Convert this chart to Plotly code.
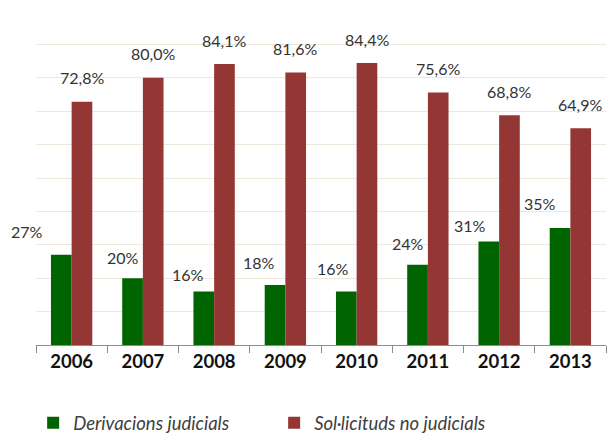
import plotly.graph_objects as go

years = ["2006", "2007", "2008", "2009", "2010", "2011", "2012", "2013"]
derivacions = [27, 20, 16, 18, 16, 24, 31, 35]
sollicituds = [72.8, 80.0, 84.1, 81.6, 84.4, 75.6, 68.8, 64.9]
green_labels = ["27%", "20%", "16%", "18%", "16%", "24%", "31%", "35%"]
red_labels = ["72,8%", "80,0%", "84,1%", "81,6%", "84,4%", "75,6%", "68,8%", "64,9%"]

# label nudges (pixels) for the green series labels, mimicking hand-placed labels
green_dx = [-45, -20, -26, -26, -24, -20, -29, -30]
green_dy = [23, 21, 17, 22, 23, 21, 16, 25]

GREEN = "#006400"
RED = "#943634"
FONT = "Lato"

fig = go.Figure()
fig.add_trace(go.Bar(x=years, y=derivacions, name="Derivacions judicials",
                     marker=dict(color=GREEN, line=dict(width=0))))
fig.add_trace(go.Bar(x=years, y=sollicituds, name="Sol·licituds no judicials",
                     marker=dict(color=RED, line=dict(width=0))))

ann = []
for i, y in enumerate(years):
    ann.append(dict(x=i, y=sollicituds[i], text=red_labels[i], showarrow=False,
                    xref="x", yref="y", xshift=10, yshift=24, yanchor="middle",
                    font=dict(family=FONT, size=16, color="#333333")))
    ann.append(dict(x=i, y=derivacions[i], text=green_labels[i], showarrow=False,
                    xref="x", yref="y", xshift=green_dx[i], yshift=green_dy[i],
                    yanchor="middle", font=dict(family=FONT, size=16, color="#333333")))

fig.update_layout(
    width=608, height=442,
    margin=dict(l=36, r=2, t=11, b=97, autoexpand=False),
    paper_bgcolor="white", plot_bgcolor="white",
    barmode="group", bargap=0.42, bargroupgap=0,
    annotations=ann,
    showlegend=True,
    legend=dict(orientation="h", x=-0.005, xanchor="left", y=-0.234, yanchor="middle",
                font=dict(family=FONT, size=18.5, color="#404040", style="italic"),
                entrywidth=196, entrywidthmode="pixels", itemclick=False),
    xaxis=dict(type="category", range=[-0.5, 7.5], showline=True, linecolor="#8c8c8c",
               linewidth=1, ticks="outside", tickson="boundaries", ticklen=7,
               tickcolor="#8c8c8c",
               tickfont=dict(family=FONT, size=18.5, color="#111111", weight="bold"),
               showgrid=False, automargin=False, tickangle=0),
    yaxis=dict(range=[0, 100], dtick=10, showticklabels=False, showgrid=True,
               gridcolor="#ece8dc", gridwidth=1, zeroline=False, showline=False,
               automargin=False),
)

fig.write_html("out.html", post_script="document.body.style.margin='0';",
               config={"displayModeBar": False})
